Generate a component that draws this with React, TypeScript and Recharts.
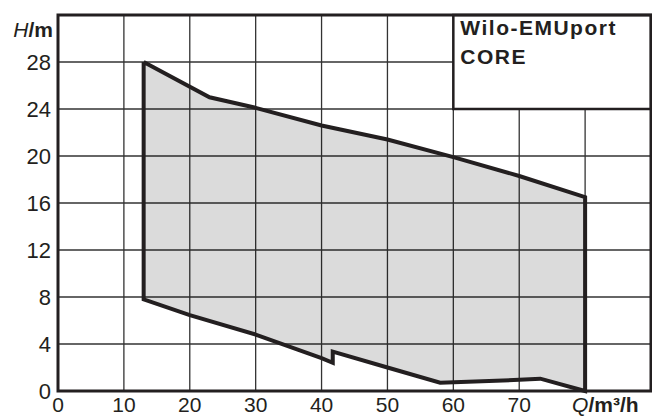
import { CartesianGrid, ComposedChart, ReferenceArea, Scatter, XAxis, YAxis } from "recharts";

const INK = "#231f20";
const FONT = "'Liberation Sans', Arial, sans-serif";

// axis ticks
const qTicks = [0, 10, 20, 30, 40, 50, 60, 70, 80];
const hTicks = [0, 4, 8, 12, 16, 20, 24, 28];

// upper edge of the operating range (Q in m³/h, H in m)
const topQ = [13, 23, 30, 40, 50, 60, 70, 80];
const topH = [28, 25, 24.1, 22.6, 21.4, 19.9, 18.3, 16.5];

// lower edge of the operating range
const bottomQ = [13, 20, 30, 40, 41.7, 41.7, 50, 58, 70, 73.2, 80];
const bottomH = [7.8, 6.45, 4.8, 2.8, 2.4, 3.35, 2.0, 0.7, 0.95, 1.05, 0];

const titleLines = ["Wilo-EMUport", "CORE"];

// closed outline: along the top, then back along the bottom
const outline = [
  ...topQ.map((q, i) => ({ q, h: topH[i] })),
  ...bottomQ.map((q, i) => ({ q, h: bottomH[i] })).reverse(),
  { q: topQ[0], h: topH[0] },
];

function QTick({ x, y, payload }: any) {
  if (payload.value === 80) {
    return (
      <text x={x - 13} y={y} dy={13} fontSize={21} fontFamily={FONT} fill={INK}>
        <tspan fontStyle="italic">Q</tspan>
        <tspan fontWeight="bold">/m³/h</tspan>
      </text>
    );
  }
  return (
    <text x={x} y={y} dy={13} textAnchor="middle" fontSize={21} fontFamily={FONT} fill={INK}>
      {payload.value}
    </text>
  );
}

function HTick({ x, y, payload }: any) {
  return (
    <text x={x} y={y} dy="0.355em" textAnchor="end" fontSize={22} fontFamily={FONT} fill={INK}>
      {payload.value}
    </text>
  );
}

function hUnit(props: any) {
  const vb = props.viewBox;
  return (
    <text x={vb.x + vb.width - 5} y={vb.y + 15} dy="0.355em" textAnchor="end" fontSize={21} fontFamily={FONT} fill={INK}>
      <tspan fontStyle="italic">H</tspan>
      <tspan fontWeight="bold">/m</tspan>
    </text>
  );
}

function titleLabel(props: any) {
  const vb = props.viewBox;
  return (
    <text x={vb.x + 7} y={vb.y + 20} fontSize={21} fontWeight="bold" letterSpacing={1.5} fontFamily={FONT} fill={INK}>
      {titleLines.map((t, i) => (
        <tspan key={t} x={vb.x + 7} dy={i === 0 ? 0 : 29}>
          {t}
        </tspan>
      ))}
    </text>
  );
}

export default function App() {
  return (
    <div style={{ position: "absolute", left: 0, top: 0, background: "#fff" }}>
      <ComposedChart width={652} height={418} margin={{ top: 15, right: 1, bottom: 0, left: 0 }}>
        <CartesianGrid stroke="#333" strokeWidth={1.3} />
        <XAxis
          type="number"
          dataKey="q"
          domain={[0, 90]}
          ticks={qTicks}
          interval={0}
          height={27}
          axisLine={false}
          tickLine={false}
          tickSize={0}
          tickMargin={8}
          tick={<QTick />}
        />
        <YAxis
          type="number"
          dataKey="h"
          domain={[0, 32]}
          ticks={hTicks}
          interval={0}
          width={58}
          axisLine={false}
          tickLine={false}
          tickSize={0}
          tickMargin={7}
          tick={<HTick />}
          label={hUnit}
        />
        <Scatter
          data={outline}
          dataKey="h"
          lineType="joint"
          line={{ stroke: INK, strokeWidth: 4, fill: "#000", fillOpacity: 0.14, strokeLinejoin: "miter" }}
          shape={() => <g />}
          isAnimationActive={false}
        />
        <ReferenceArea
          x1={60}
          x2={90}
          y1={24}
          y2={32}
          fill="#fff"
          fillOpacity={1}
          stroke={INK}
          strokeWidth={2.5}
          label={titleLabel}
        />
        <ReferenceArea x1={0} x2={90} y1={0} y2={32} fill="none" stroke={INK} strokeWidth={3} />
      </ComposedChart>
    </div>
  );
}
